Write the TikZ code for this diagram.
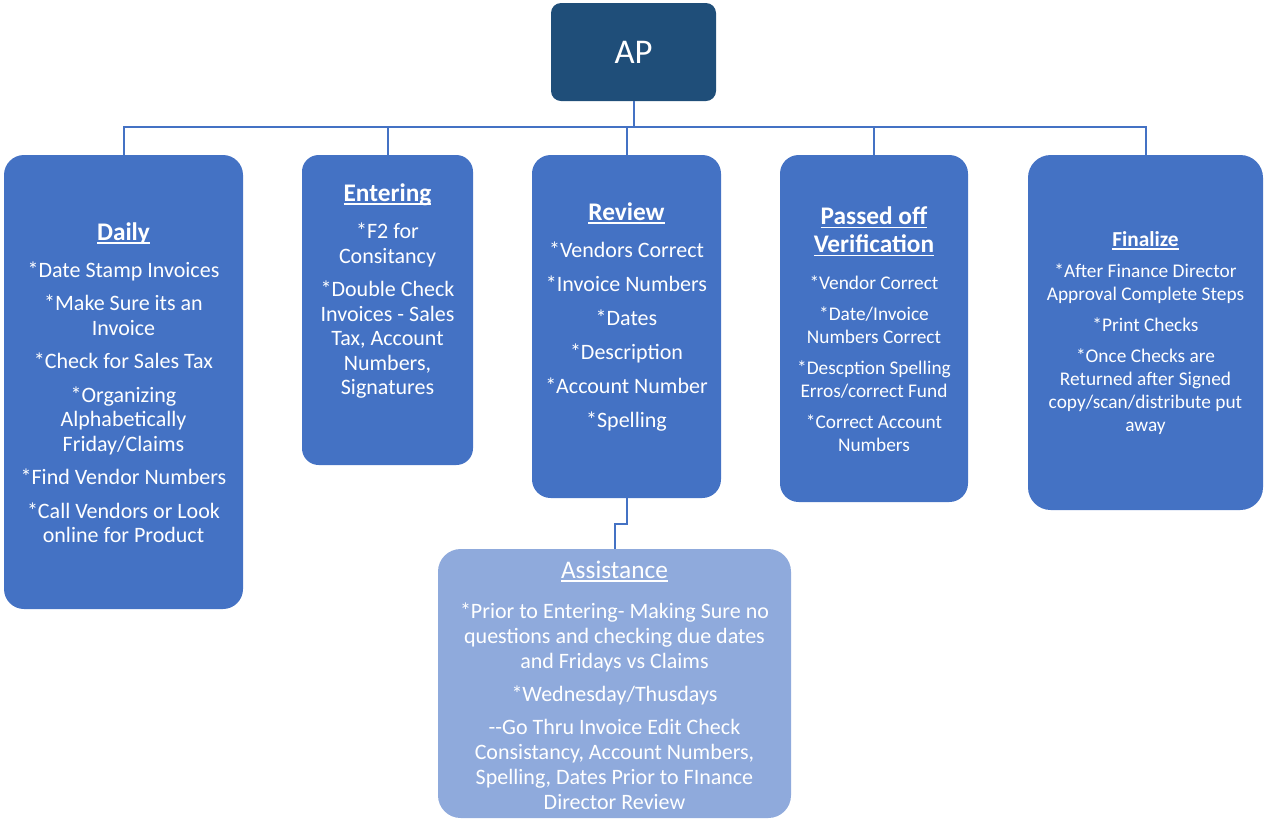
\documentclass[tikz,border=0pt]{standalone}
\usepackage{fontspec}
\setmainfont{Carlito}
\newlength\ulw
\newcommand{\myul}[1]{\settowidth{\ulw}{#1}\rlap{\rule[-2.6pt]{\ulw}{1.1pt}}#1}
\definecolor{apblue}{HTML}{1F4E79}
\definecolor{boxblue}{HTML}{4472C4}
\definecolor{lightblue}{HTML}{8FAADC}
\definecolor{lineblue}{HTML}{4472C4}
\newcommand{\ttlA}{\fontsize{19}{21}\selectfont\bfseries}
\newcommand{\ttlB}{\fontsize{16}{18}\selectfont\bfseries}
\newcommand{\ttlC}{\fontsize{19}{21}\selectfont}
\begin{document}
\begin{tikzpicture}[x=0.75pt,y=-0.75pt,
  box/.style={draw=none, fill=boxblue, inner sep=0pt, outer sep=0pt},
  apbox/.style={box, fill=apblue, rounded corners=7.5pt},
  subbox/.style={box, fill=lightblue},
  conn/.style={draw=lineblue, line width=1.5pt},
  txt/.style={text=white, align=center, inner sep=0pt, font={\fontsize{16.5}{18.4}\selectfont}},
  txts/.style={text=white, align=center, inner sep=0pt, font={\fontsize{14.5}{17.25}\selectfont}},
  txta/.style={text=white, align=center, inner sep=0pt, font={\fontsize{16.5}{18.75}\selectfont}}
]
\useasboundingbox (0,0) rectangle (1265,819);

% boxes
\node[apbox, minimum width=123.75pt, minimum height=73.5pt] (AP) at (633.5,52) {};
\node[box, rounded corners=15pt, minimum width=179.25pt, minimum height=340.5pt] (Daily) at (123.5,382) {};
\node[box, rounded corners=12.5pt, minimum width=128.25pt, minimum height=232.5pt] (Entering) at (387.5,310) {};
\node[box, rounded corners=14pt, minimum width=141.75pt, minimum height=257.25pt] (Review) at (626.5,326.5) {};
\node[box, rounded corners=14pt, minimum width=141pt, minimum height=260.25pt] (Passed) at (874,328.5) {};
\node[box, rounded corners=17pt, minimum width=176.25pt, minimum height=266.25pt] (Finalize) at (1145.5,332.5) {};
\node[subbox, rounded corners=17pt, minimum width=264.75pt, minimum height=201.75pt] (Assist) at (614.5,683.5) {};

% connectors
\coordinate (bus) at (0,127);
\draw[conn] (AP.south) -- (AP.south |- bus);
\draw[conn] (Daily.north) -- (Daily.north |- bus) -| (Finalize.north);
\draw[conn] (Entering.north) -- (Entering.north |- bus);
\draw[conn] (Review.north) -- (Review.north |- bus);
\draw[conn] (Passed.north) -- (Passed.north |- bus);
\draw[conn] (Review.south) -- ++(0,26) -| (Assist.north);

% texts
\node[text=white, font={\fontsize{26}{30}\selectfont}] (tAP) at (AP.center) {AP};

\node[txt] (tDaily) at (123.5,382.5) {{\ttlA\myul{Daily}}\\[9.4pt]
*Date Stamp Invoices\\[6.7pt]
*Make Sure its an\\Invoice\\[6.7pt]
*Check for Sales Tax\\[6.7pt]
*Organizing\\Alphabetically\\Friday/Claims\\[6.7pt]
*Find Vendor Numbers\\[6.7pt]
*Call Vendors or Look\\online for Product};

\node[txt] (tEntering) at (387.5,291) {{\ttlA\myul{Entering}}\\[9.4pt]
*F2 for\\Consitancy\\[6.7pt]
*Double Check\\Invoices - Sales\\Tax, Account\\Numbers,\\Signatures};

\node[txt] (tReview) at (626.5,317) {{\ttlA\myul{Review}}\\[9.4pt]
*Vendors Correct\\[7.1pt]
*Invoice Numbers\\[7.1pt]
*Dates\\[7.1pt]
*Description\\[7.1pt]
*Account Number\\[7.1pt]
*Spelling};

\node[txts] (tPassed) at (874,329.5) {{\ttlA\myul{Passed off}}\\[3.75pt]
{\ttlA\myul{Verification}}\\[10.5pt]
*Vendor Correct\\[6pt]
*Date/Invoice\\Numbers Correct\\[6pt]
*Descption Spelling\\Erros/correct Fund\\[6pt]
*Correct Account\\Numbers};

\node[txts] (tFinalize) at (1145.5,333) {{\ttlB\myul{Finalize}}\\[6pt]
*After Finance Director\\Approval Complete Steps\\[6pt]
*Print Checks\\[6pt]
*Once Checks are\\Returned after Signed\\copy/scan/distribute put\\away};

\node[txta] (tAssist) at (614.5,685) {{\ttlC\myul{Assistance}}\\[11.25pt]
*Prior to Entering- Making Sure no\\questions and checking due dates\\and Fridays vs Claims\\[6pt]
*Wednesday/Thusdays\\[6pt]
-{}-Go Thru Invoice Edit Check\\Consistancy, Account Numbers,\\Spelling, Dates Prior to FInance\\Director Review};
\end{tikzpicture}
\end{document}
